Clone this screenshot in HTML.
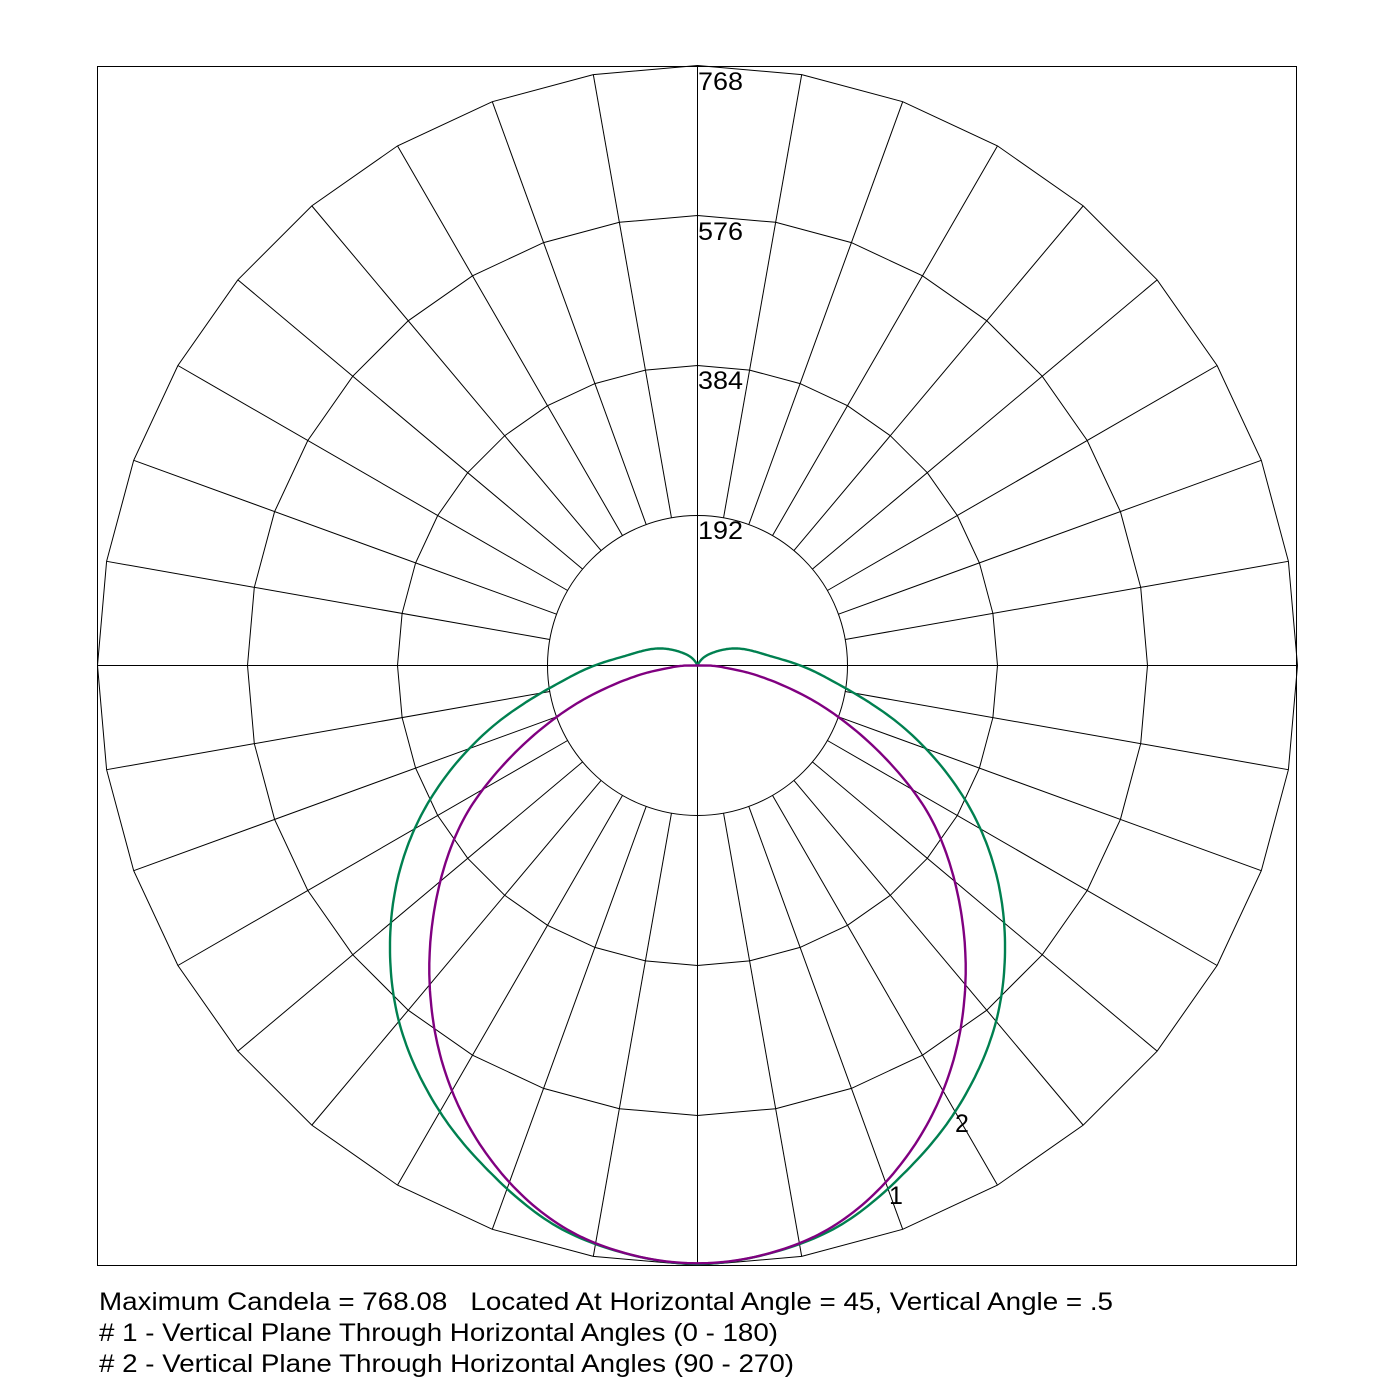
<!DOCTYPE html>
<html><head><meta charset="utf-8"><style>
body{margin:0;background:#fff;}
svg{display:block;}
text{font-family:"Liberation Sans",Arial,sans-serif;}
</style></head><body>
<svg id="s" width="1399" height="1399" xmlns="http://www.w3.org/2000/svg">
<rect x="97.5" y="66.5" width="1199" height="1199" fill="none" stroke="#000" stroke-width="1"/>
<g id="grid" stroke="#000" stroke-width="1" fill="none"></g>
<g id="curves" fill="none" stroke-width="2.4"></g>
<g font-size="25" fill="#000">
<text x="698" y="90" textLength="45" lengthAdjust="spacingAndGlyphs">768</text>
<text x="698" y="240" textLength="45" lengthAdjust="spacingAndGlyphs">576</text>
<text x="698" y="389" textLength="45" lengthAdjust="spacingAndGlyphs">384</text>
<text x="698" y="539" textLength="45" lengthAdjust="spacingAndGlyphs">192</text>
<text x="889" y="1204">1</text>
<text x="955" y="1132">2</text>
<text x="99" y="1310" textLength="1014" lengthAdjust="spacingAndGlyphs">Maximum Candela = 768.08 &#160;&#160;Located At Horizontal Angle = 45, Vertical Angle = .5</text>
<text x="99" y="1341" textLength="679" lengthAdjust="spacingAndGlyphs"># 1 - Vertical Plane Through Horizontal Angles (0 - 180)</text>
<text x="99" y="1372" textLength="695" lengthAdjust="spacingAndGlyphs"># 2 - Vertical Plane Through Horizontal Angles (90 - 270)</text>
</g>
</svg>
<script>
var cx=697.5,cy=665.5,R=600,NS="http://www.w3.org/2000/svg";
var g=document.getElementById('grid'),c=document.getElementById('curves');
function el(p,t,a){var e=document.createElementNS(NS,t);for(var k in a)e.setAttribute(k,a[k]);p.appendChild(e);return e;}
[150,300,450,600].forEach(function(r){var pts=[];for(var a=0;a<360;a+=10){var t=a*Math.PI/180;pts.push((cx+r*Math.sin(t)).toFixed(1)+','+(cy-r*Math.cos(t)).toFixed(1));}
 if(r==150){el(g,'circle',{cx:cx,cy:cy,r:150});}else el(g,'polygon',{points:pts.join(' ')});});
for(var a=0;a<360;a+=10){var t=a*Math.PI/180,s=Math.sin(t),co=Math.cos(t);
 var r0=(a%90==0)?0:150;
 el(g,'line',{x1:cx+r0*s,y1:cy-r0*co,x2:cx+R*s,y2:cy-R*co});}
el(g,'line',{x1:97,y1:cy,x2:1297,y2:cy});
function toPolar(pts){var o=[];pts.forEach(function(p){if(p[0]==0&&p[1]==0)return;var th=Math.atan2(p[0],p[1])*180/Math.PI;o.push([th,Math.hypot(p[0],p[1])]);});o.sort(function(a,b){return a[0]-b[0];});return o;}
function pchip(tb){var n=tb.length,d=[],m=[];
 for(var i=0;i<n-1;i++)d.push((tb[i+1][1]-tb[i][1])/(tb[i+1][0]-tb[i][0]));
 m[0]=0;m[n-1]=d[n-2];
 for(var i=1;i<n-1;i++){if(d[i-1]*d[i]<=0)m[i]=0;else{var h0=tb[i][0]-tb[i-1][0],h1=tb[i+1][0]-tb[i][0],w1=2*h1+h0,w2=h1+2*h0;m[i]=(w1+w2)/(w1/d[i-1]+w2/d[i]);}}
 return function(th){if(th<=tb[0][0])return tb[0][1];if(th>=tb[n-1][0])return Math.max(0,tb[n-1][1]+m[n-1]*(th-tb[n-1][0]));
  for(var i=1;i<n;i++)if(th<=tb[i][0]){var x0=tb[i-1][0],h=tb[i][0]-x0,u=(th-x0)/h,y0=tb[i-1][1],y1=tb[i][1];
  return (2*u*u*u-3*u*u+1)*y0+(u*u*u-2*u*u+u)*h*m[i-1]+(-2*u*u*u+3*u*u)*y1+(u*u*u-u*u)*h*m[i];}};}
function build(pts,maxTh,win){var f=pchip(toPolar(pts));var arr=[];for(var th=0;th<=maxTh;th+=0.5)arr.push([th,f(th)]);
 var sm=arr.map(function(p,i){var s=0,k=0;for(var j=-win;j<=win;j++){var idx=i+j;var v;if(idx<0)v=arr[-idx][1];else if(idx>=arr.length)continue;else v=arr[idx][1];s+=v;k++;}return [p[0],s/k];});
 sm[sm.length-1][1]=0;
 var right=sm.map(function(p){var t=p[0]*Math.PI/180;return [cx+p[1]*Math.sin(t),cy+p[1]*Math.cos(t)];});
 var all=right.slice().reverse().map(function(p){return [2*cx-p[0],p[1]];}).concat(right);
 return 'M'+all.map(function(p){return p[0].toFixed(1)+' '+p[1].toFixed(1);}).join('L');}
var G=[[16,-13],[40,-17],[76,-8],[103,0],[147,23],[187,47],[230,85],[267,133],[283,163],[300,213],[307,260],[307,300],[300,353],[283,400],[260,443],[233,480],[193,520],[160,550],[100,580],[50,593],[0,600],[4,-6]];
var Pp=[[7,0.3],[33,3],[67,13],[100,27],[140,50],[173,80],[207,113],[233,150],[257,217],[265,253],[268,300],[263,367],[247,423],[213,487],[183,523],[140,560],[100,580],[50,593],[0,600]];
el(c,'path',{d:build(G,180,8),stroke:'#008050'});
el(c,'path',{d:build(Pp,90,10),stroke:'#800080'});
</script>
</body></html>
